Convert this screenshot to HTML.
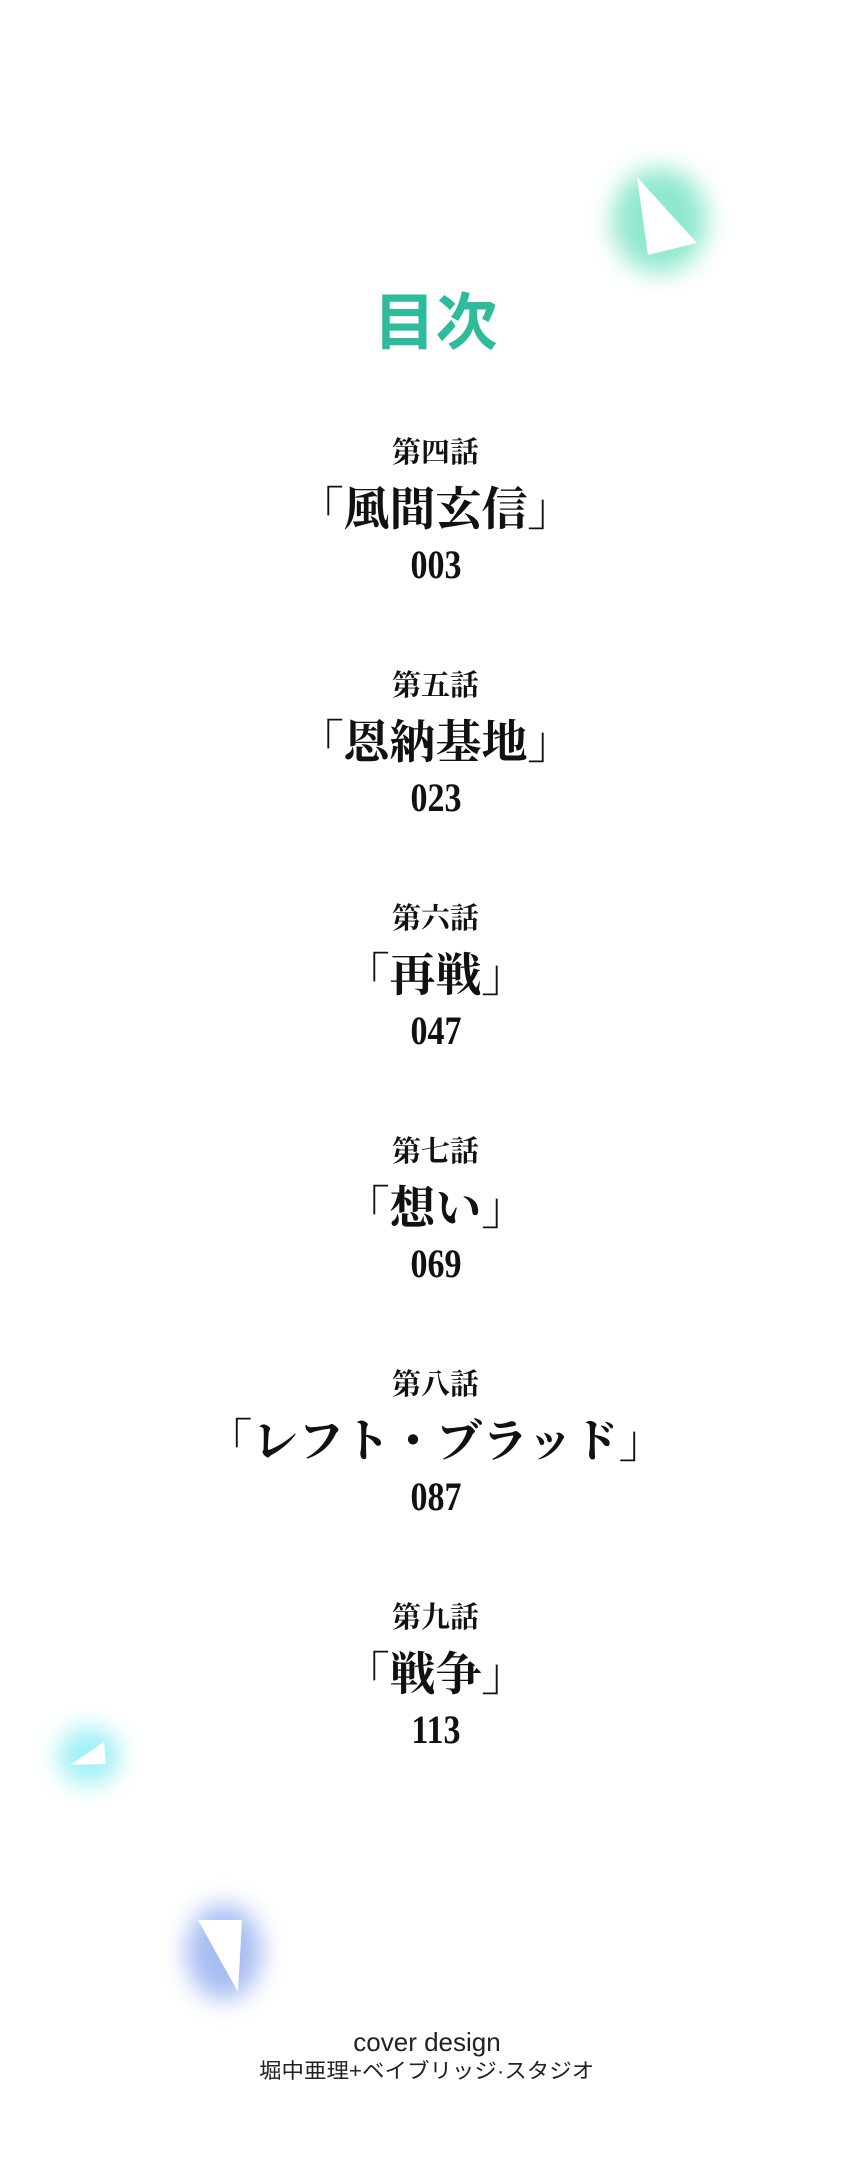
<!DOCTYPE html>
<html><head><meta charset="utf-8"><style>
html,body{margin:0;padding:0;background:#fff;}
body{width:857px;height:2164px;position:relative;overflow:hidden;}
.c{position:absolute;left:14px;width:843px;text-align:center;white-space:nowrap;z-index:2;}
.lab{font-family:"Liberation Serif","Noto Serif CJK JP","Noto Serif CJK SC",serif;font-weight:bold;font-size:29px;line-height:30px;color:#111;}
.tit{font-family:"Liberation Serif","Noto Serif CJK JP","Noto Serif CJK SC",serif;font-weight:bold;font-size:46px;line-height:48px;color:#111;}
.num{font-family:"Liberation Serif",serif;font-weight:bold;font-size:40px;line-height:40px;color:#111;}
.num span{display:inline-block;transform:scaleX(0.85);}
.glow{position:absolute;border-radius:50%;filter:blur(12px);z-index:0;}
</style></head><body>
<div class="glow" style="left:612px;top:168px;width:95px;height:105px;background:#8fe8cf;"></div>
<div class="glow" style="left:58px;top:1727px;width:62px;height:58px;background:#9ff0f5;"></div>
<div class="glow" style="left:186px;top:1904px;width:76px;height:96px;background:#a7bdf2;"></div>
<svg style="position:absolute;left:0;top:0;z-index:1" width="857" height="2164">
<polygon points="637,177 697,243 648,255" fill="#fff"/>
<polygon points="70,1765 104,1742 106,1764" fill="#fff"/>
<polygon points="198,1920 242,1920 238,1992" fill="#fff"/>
</svg>
<div class="c" style="top:286px;font-family:'Liberation Sans','Noto Sans CJK JP',sans-serif;font-size:62px;line-height:76px;color:#2dbb9c;font-weight:bold;">目次</div>

<div class="c lab" style="top:438px">第四話</div>
<div class="c tit" style="top:486px">「風間玄信」</div>
<div class="c num" style="top:545px"><span>003</span></div>

<div class="c lab" style="top:671px">第五話</div>
<div class="c tit" style="top:719px">「恩納基地」</div>
<div class="c num" style="top:778px"><span>023</span></div>

<div class="c lab" style="top:904px">第六話</div>
<div class="c tit" style="top:952px">「再戦」</div>
<div class="c num" style="top:1011px"><span>047</span></div>

<div class="c lab" style="top:1137px">第七話</div>
<div class="c tit" style="top:1185px">「想い」</div>
<div class="c num" style="top:1244px"><span>069</span></div>

<div class="c lab" style="top:1370px">第八話</div>
<div class="c tit" style="top:1418px">「レフト・ブラッド」</div>
<div class="c num" style="top:1477px"><span>087</span></div>

<div class="c lab" style="top:1603px">第九話</div>
<div class="c tit" style="top:1651px">「戦争」</div>
<div class="c num" style="top:1710px"><span>113</span></div>

<div class="c" style="left:0;width:854px;top:2027px;font-family:'Liberation Sans',sans-serif;font-size:26px;line-height:30px;color:#222;">cover design</div>
<div class="c" style="left:0;width:854px;top:2059px;font-family:'Liberation Sans','Noto Sans CJK JP',sans-serif;font-size:21px;line-height:26px;color:#222;"><span style="display:inline-block;transform:scaleX(1.07)">堀中亜理+ベイブリッジ·スタジオ</span></div>
</body></html>
